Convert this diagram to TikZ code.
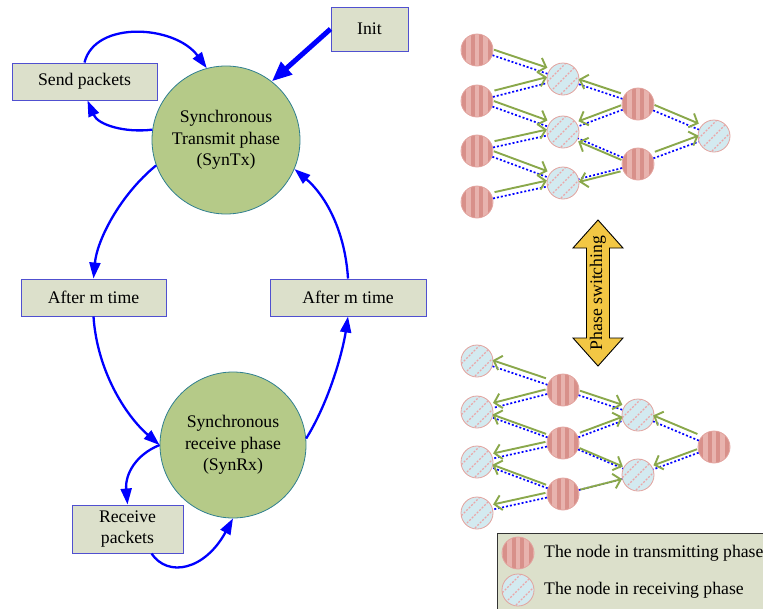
\documentclass[tikz,border=0pt]{standalone}
\usepackage{fontspec}
\setmainfont{Liberation Serif}
\usetikzlibrary{arrows.meta,calc}
\definecolor{boxfill}{HTML}{DCE0CB}
\definecolor{boxline}{HTML}{5050D0}
\definecolor{phasefill}{HTML}{B5CA88}
\definecolor{phaseline}{HTML}{2F7F8F}
\definecolor{txlight}{HTML}{E8B3AE}
\definecolor{txdark}{HTML}{D8908A}
\definecolor{nodeline}{HTML}{E2A39E}
\definecolor{rxfill}{HTML}{D3EAF0}
\definecolor{hatchpink}{HTML}{EBA6A8}
\definecolor{linkgreen}{HTML}{8AA84B}
\definecolor{gold}{HTML}{F2C744}
\newcommand\netlink[3]{%
  \draw[linkdots] (#1) -- (#2);
  \draw[sendarrow] ($(#1)!18pt!(#2)+(0,#3)$) -- ($(#2)!16.5pt!(#1)+(0,#3)$);}
\begin{document}
\begin{tikzpicture}[x=1pt,y=-1pt,
  every node/.style={font=\fontsize{17.7}{21.7}\selectfont},
  box/.style={draw=boxline, fill=boxfill, line width=1pt, inner sep=0pt, align=center},
  phase/.style={circle, draw=phaseline, fill=phasefill, line width=0.8pt, minimum size=148pt, inner sep=0pt, align=center},
  flow/.style={draw=blue, line width=2.3pt, -{Triangle[length=16pt,width=11pt]}},
  txnode/.style={circle, minimum size=32pt, inner sep=0pt, fill=txlight, draw=nodeline, line width=0.8pt,
    path picture={\foreach \s in {-12.75,-4.25,4.25,12.75} \fill[txdark] (path picture bounding box.center) ++(\s-2.2,-20) rectangle ++(4.4,40);}},
  rxnode/.style={circle, minimum size=32pt, inner sep=0pt, fill=rxfill, draw=nodeline, line width=0.8pt,
    path picture={\foreach \s in {-26,-13,0,13,26} \draw[hatchpink, line width=1.1pt, dash pattern=on 2pt off 1.5pt] (path picture bounding box.center) ++(\s-20,20) -- ++(40,-40);}},
  linkdots/.style={draw=blue, line width=1.7pt, dash pattern=on 2pt off 2pt},
  sendarrow/.style={draw=linkgreen, line width=1.9pt, -{Straight Barb[length=7pt,width=15pt]}},
]
\useasboundingbox (0,0) rectangle (763,608);

% left state diagram
\node[box, minimum width=77pt, minimum height=44pt] (init) at (369.5,29) {Init};
\node[box, minimum width=145pt, minimum height=37pt] (sendp) at (84.5,81.5) {Send packets};
\node[phase] (syntx) at (226,140) {Synchronous\\Transmit phase\\(SynTx)};
\node[box, minimum width=145pt, minimum height=37pt] (afterl) at (93.5,297.5) {After m time};
\node[box, minimum width=156pt, minimum height=37pt] (afterr) at (348,297.5) {After m time};
\node[phase, minimum size=146pt] (synrx) at (233,445) {Synchronous\\receive phase\\(SynRx)};
\node[box, minimum width=111pt, minimum height=48pt] (recv) at (127.5,529) {Receive\\packets};

\draw[flow] (sendp.north) .. controls (95,20) and (175,25) .. (syntx.105);
\draw[flow] (syntx.172) .. controls (125,133) and (98,125) .. ([xshift=3pt]sendp.south);
\draw[flow] (syntx.200) .. controls (120,195) and (97,240) .. (afterl.north);
\draw[flow] (afterl.south) .. controls (97,370) and (125,415) .. (synrx.180);
\draw[flow] (synrx.5) .. controls (330,400) and (343,350) .. (afterr.south);
\draw[flow] (afterr.north) .. controls (345,230) and (325,195) .. (syntx.337);
\draw[flow] (synrx.180) .. controls (135,455) and (125,475) .. (recv.north);
\draw[flow] ([xshift=24pt]recv.south) .. controls (168,578) and (205,570) .. (synrx.south);
\draw[draw=blue, line width=5pt, -{Triangle[length=20pt,width=16pt]}] (init.west) -- (syntx.52);

% top network
\node[txnode] (t1) at (477,50) {};
\node[txnode] (t2) at (477,101) {};
\node[txnode] (t3) at (477,151) {};
\node[txnode] (t4) at (477,202) {};
\node[rxnode] (r1) at (563,79) {};
\node[rxnode] (r2) at (563,132) {};
\node[rxnode] (r3) at (563,183) {};
\node[txnode] (u1) at (638,104) {};
\node[txnode] (u2) at (638,164) {};
\node[rxnode] (v) at (714,136) {};
\netlink{t1}{r1}{-6}
\netlink{t2}{r1}{-6}
\netlink{t2}{r2}{-6}
\netlink{t3}{r2}{-6}
\netlink{t3}{r3}{-6}
\netlink{t4}{r3}{-6}
\netlink{u1}{r1}{-5}
\netlink{u1}{r2}{-5}
\netlink{u2}{r2}{3}
\netlink{u2}{r3}{3}
\netlink{u1}{v}{-6}
\netlink{u2}{v}{-6}

% phase switching arrow
\draw[fill=gold, line width=0.9pt] (598,220) -- (623,248) -- (609.5,248) -- (609.5,338) -- (623,338) -- (598,366) -- (573,338) -- (586.5,338) -- (586.5,248) -- (573,248) -- cycle;
\node[rotate=90] (ps) at (598,293) {Phase switching};

% bottom network
\node[rxnode] (bl1) at (477,361) {};
\node[rxnode] (bl2) at (477,412) {};
\node[rxnode] (bl3) at (477,462) {};
\node[rxnode] (bl4) at (477,513) {};
\node[txnode] (bm1) at (563,390) {};
\node[txnode] (bm2) at (563,443) {};
\node[txnode] (bm3) at (563,494) {};
\node[rxnode] (bc1) at (638,415) {};
\node[rxnode] (bc2) at (638,475) {};
\node[txnode] (br) at (714,447) {};
\netlink{bm1}{bl1}{-6}
\netlink{bm1}{bl2}{-5}
\netlink{bm2}{bl2}{-3}
\netlink{bm2}{bl3}{-5}
\netlink{bm3}{bl3}{-3}
\netlink{bm3}{bl4}{-5}
\netlink{bm1}{bc1}{-5}
\netlink{bm2}{bc1}{-4}
\netlink{bm2}{bc2}{-2}
\netlink{bm3}{bc2}{0}
\netlink{br}{bc1}{-6}
\netlink{br}{bc2}{-4}

% legend
\draw[fill=boxfill, draw=black!80, line width=0.8pt] (497,533) rectangle (775,620);
\node[txnode] (legtx) at (518,553) {};
\node[rxnode] (legrx) at (518,590) {};
\node[anchor=west, inner sep=0pt] (legt1) at (544,553) {The node in transmitting phase};
\node[anchor=west, inner sep=0pt] (legt2) at (544,590) {The node in receiving phase};
\end{tikzpicture}
\end{document}
